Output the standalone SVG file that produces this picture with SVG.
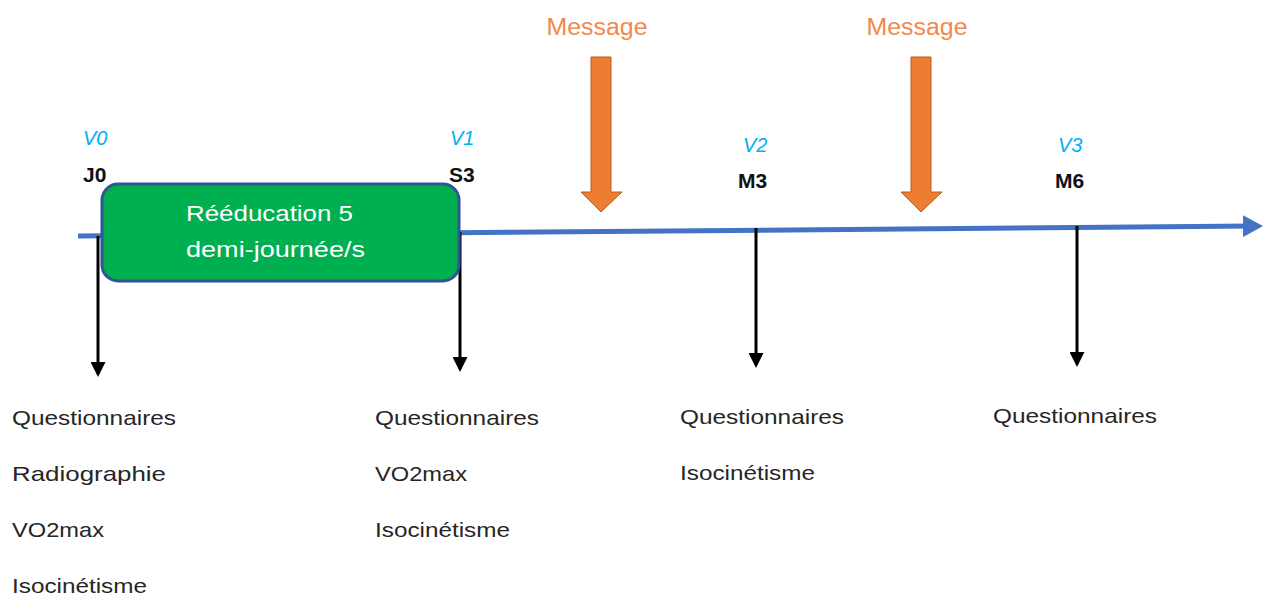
<svg xmlns="http://www.w3.org/2000/svg" width="1268" height="596" viewBox="0 0 1268 596">
<style>
.t{font-family:"Liberation Sans",Arial,sans-serif;font-size:21px;fill:#262626}
.v{font-family:"Liberation Sans",Arial,sans-serif;font-size:20px;font-style:italic;fill:#00B0F0}
.b{font-family:"Liberation Sans",Arial,sans-serif;font-size:21px;font-weight:bold;fill:#111}
.m{font-family:"Liberation Sans",Arial,sans-serif;font-size:23px;fill:#F08A4B}
.w{font-family:"Liberation Sans",Arial,sans-serif;font-size:22px;fill:#FFFFFF}
.down{stroke:#000;stroke-width:3;fill:none}
.orange{fill:#ED7D31;stroke:#B85F24;stroke-width:1}
</style>
<defs>
<marker id="ah" markerWidth="5" markerHeight="5" refX="4" refY="2.5" orient="auto" markerUnits="strokeWidth">
<path d="M0,0 L5,2.5 L0,5 Z" fill="#000"/>
</marker>
<marker id="bh" markerWidth="4" markerHeight="4.4" refX="2" refY="2.2" orient="auto" markerUnits="strokeWidth">
<path d="M0,0 L4,2.2 L0,4.4 Z" fill="#4472C4"/>
</marker>
</defs>
<g id="connectors">
<line x1="78" y1="236" x2="1253" y2="226" stroke="#4472C4" stroke-width="5" marker-end="url(#bh)"/>
<line class="down" x1="98" y1="236" x2="98" y2="374" marker-end="url(#ah)"/>
<line class="down" x1="460" y1="232" x2="460" y2="369" marker-end="url(#ah)"/>
<line class="down" x1="756" y1="228" x2="756" y2="365" marker-end="url(#ah)"/>
<line class="down" x1="1077" y1="226" x2="1077" y2="364" marker-end="url(#ah)"/>
</g>
<g id="rehab">
<rect x="102" y="184" width="357" height="97" rx="16" ry="16" fill="#00B050" stroke="#2F5597" stroke-width="3"/>
<text class="w" x="186" y="221" textLength="167" lengthAdjust="spacingAndGlyphs">Rééducation 5</text>
<text class="w" x="186" y="257" textLength="179" lengthAdjust="spacingAndGlyphs">demi-journée/s</text>
</g>
<g id="msg1">
<text class="m" x="597" y="35" text-anchor="middle" textLength="101" lengthAdjust="spacingAndGlyphs">Message</text>
<polygon class="orange" points="591,57 611,57 611,192 622,192 601,212 581,192 591,192"/>
</g>
<g id="msg2">
<text class="m" x="917" y="35" text-anchor="middle" textLength="101" lengthAdjust="spacingAndGlyphs">Message</text>
<polygon class="orange" points="911,57 931,57 931,192 942,192 921,212 901,192 911,192"/>
</g>
<g id="v0">
<text class="v" x="83" y="145">V0</text>
<text class="b" x="83" y="182">J0</text>
<text class="t" x="12" y="425" textLength="164" lengthAdjust="spacingAndGlyphs">Questionnaires</text>
<text class="t" x="12" y="481" textLength="154" lengthAdjust="spacingAndGlyphs">Radiographie</text>
<text class="t" x="12" y="537" textLength="92" lengthAdjust="spacingAndGlyphs">VO2max</text>
<text class="t" x="12" y="593" textLength="135" lengthAdjust="spacingAndGlyphs">Isocinétisme</text>
</g>
<g id="v1">
<text class="v" x="450" y="145">V1</text>
<text class="b" x="449" y="182">S3</text>
<text class="t" x="375" y="425" textLength="164" lengthAdjust="spacingAndGlyphs">Questionnaires</text>
<text class="t" x="375" y="481" textLength="92" lengthAdjust="spacingAndGlyphs">VO2max</text>
<text class="t" x="375" y="537" textLength="135" lengthAdjust="spacingAndGlyphs">Isocinétisme</text>
</g>
<g id="v2">
<text class="v" x="743" y="152">V2</text>
<text class="b" x="738" y="188">M3</text>
<text class="t" x="680" y="424" textLength="164" lengthAdjust="spacingAndGlyphs">Questionnaires</text>
<text class="t" x="680" y="480" textLength="135" lengthAdjust="spacingAndGlyphs">Isocinétisme</text>
</g>
<g id="v3">
<text class="v" x="1058" y="152">V3</text>
<text class="b" x="1055" y="188">M6</text>
<text class="t" x="993" y="423" textLength="164" lengthAdjust="spacingAndGlyphs">Questionnaires</text>
</g>
</svg>
